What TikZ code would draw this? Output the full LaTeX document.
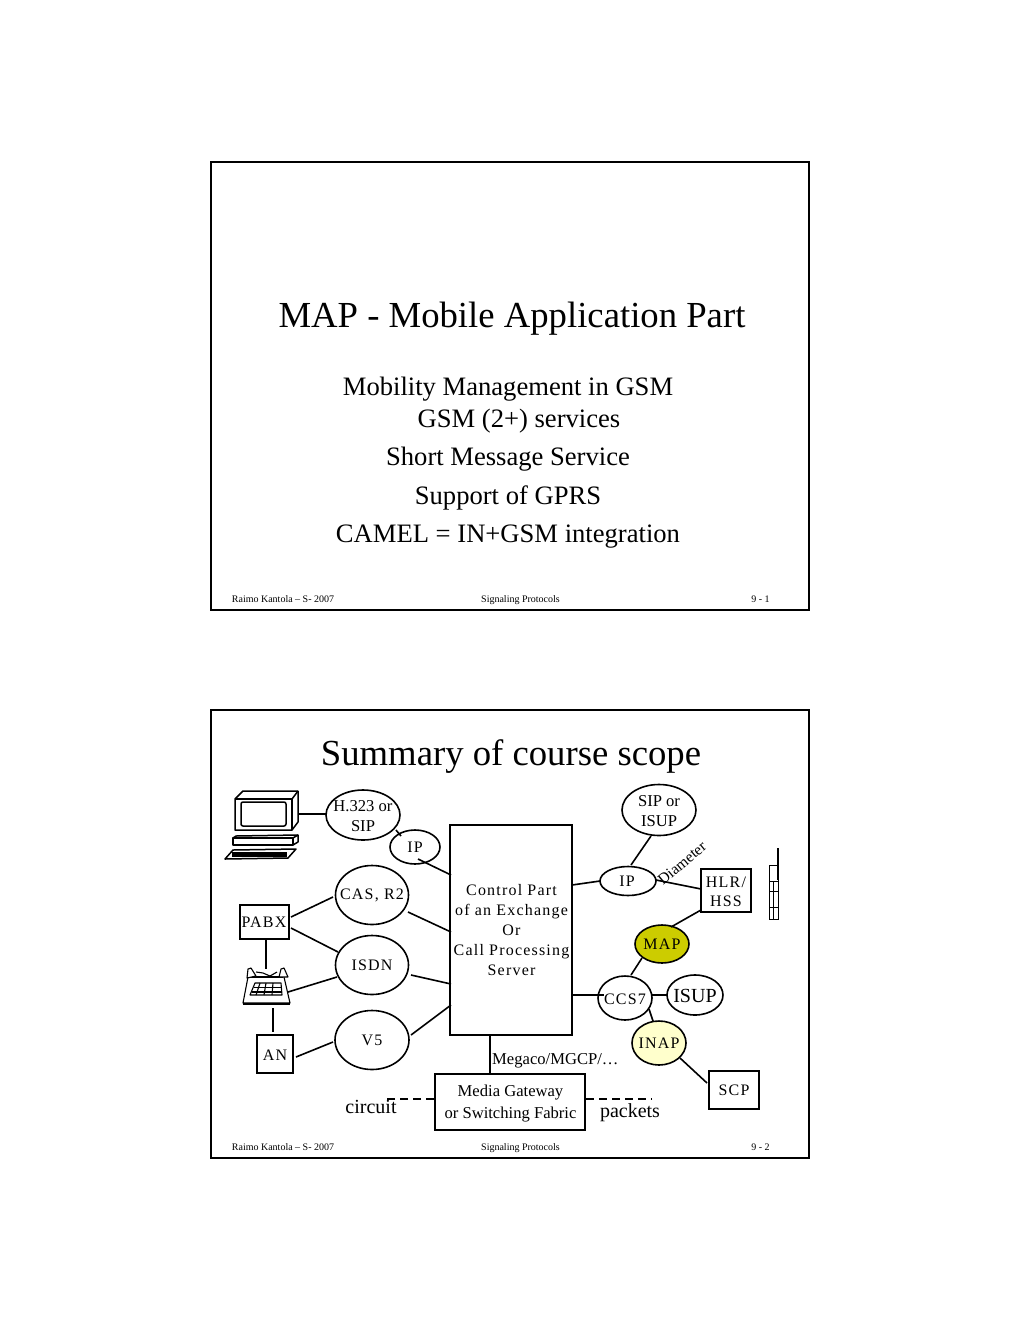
\documentclass[tikz,border=0pt]{standalone}
\usepackage{fontspec}
\setmainfont{Liberation Serif}
\newcommand{\sz}[1]{\fontsize{#1}{#1}\selectfont}
\newcommand{\spc}{\addfontfeature{LetterSpace=7.5}}
\tikzset{
  x=1pt,y=-1pt,
  frame/.style={draw,line width=2pt,fill=white},
  wire/.style={draw,line width=1.6pt},
  oval/.style={draw,line width=1.6pt,ellipse,fill=white,inner sep=0pt},
  boxn/.style={draw,line width=2pt,fill=white,inner sep=0pt},
  lab/.style={inner sep=0pt,align=center,font=\sz{16}\spc},
  plain/.style={inner sep=0pt,align=center,font=\sz{16.6}},
  foot/.style={inner sep=0pt,font=\sz{10}},
  sub/.style={inner sep=0pt,font=\sz{26.6}},
}
\usetikzlibrary{shapes.geometric}
\begin{document}
\begin{tikzpicture}
\useasboundingbox (0,0) rectangle (1020,1320);
\fill[white] (0,0) rectangle (1020,1320);

% first slide
\draw[frame] (211,162) rectangle (809,610);
\node[inner sep=0pt,font=\sz{36.7}] (t1) at (512,319) {MAP - Mobile Application Part};
\node[sub] (s1) at (508,389) {Mobility Management in GSM};
\node[sub] (s2) at (519,421) {GSM (2+) services};
\node[sub] (s3) at (508,459) {Short Message Service};
\node[sub] (s4) at (508,498) {Support of GPRS};
\node[sub] (s5) at (508,537) {CAMEL = IN+GSM integration};
\node[foot] (f1a) at (283,599) {Raimo Kantola – S- 2007};
\node[foot] (f1b) at (520.5,600) {Signaling Protocols};
\node[foot] (f1c) at (760.5,599) {9 - 1};

% second slide
\draw[frame] (211,710) rectangle (809,1158);
\node[inner sep=0pt,font=\sz{36.7}] (t2) at (511,757) {Summary of course scope};
\node[foot] (f2a) at (283,1147) {Raimo Kantola – S- 2007};
\node[foot] (f2b) at (520.5,1148) {Signaling Protocols};
\node[foot] (f2c) at (760.5,1147) {9 - 2};

% central server and gateway
\node[boxn,minimum width=122pt,minimum height=210pt] (cp) at (511,929.5) {};
\node[lab,font=\sz{16}\spc] (cpt) at (511.5,929.5) {\rule{0pt}{13pt}Control Part\\[4pt]of an Exchange\\[4pt]Or\\[4pt]Call Processing\\[4pt]Server};
\node[boxn,minimum width=150pt,minimum height=56pt] (mg) at (510,1102) {};
\node[plain] (mgt) at (510.5,1103.5) {Media Gateway\\[4.5pt]or Switching Fabric};

% ovals
\node[oval,minimum width=74pt,minimum height=50pt] (h323) at (363,815) {};
\node[oval,minimum width=50pt,minimum height=34pt] (ipl) at (415,847) {};
\node[oval,minimum width=73pt,minimum height=59pt] (cas) at (372,895) {};
\node[oval,minimum width=73pt,minimum height=59pt] (isdn) at (372,965) {};
\node[oval,minimum width=74pt,minimum height=59pt] (v5) at (372,1040) {};
\node[oval,minimum width=74pt,minimum height=51pt] (sip) at (659,810) {};
\node[oval,minimum width=56pt,minimum height=29pt] (ipr) at (628,881) {};
\node[oval,fill={rgb,255:red,204;green,204;blue,0},minimum width=54pt,minimum height=38pt] (map) at (662,944) {};
\node[oval,minimum width=54pt,minimum height=44pt] (ccs) at (625,998) {};
\node[oval,minimum width=56pt,minimum height=40pt] (isup) at (695,995) {};
\node[oval,fill={rgb,255:red,255;green,255;blue,204},minimum width=54pt,minimum height=44pt] (inap) at (659,1043) {};

% boxes
\node[boxn,minimum width=49pt,minimum height=34pt] (pabx) at (264,922) {};
\node[boxn,minimum width=36pt,minimum height=38pt] (an) at (275,1054) {};
\node[boxn,minimum width=50pt,minimum height=43pt] (hlr) at (726,890) {};
\node[boxn,minimum width=50pt,minimum height=38pt] (scp) at (734,1090) {};

% connector ends
\coordinate (pc) at (298,814);
\coordinate (pabxb) at (266,939);
\coordinate (tel) at (266,969);
\coordinate (telb) at (273,1008);
\coordinate (cL1) at (451,875);
\coordinate (cL2) at (451,932);
\coordinate (cL3) at (451,984);
\coordinate (cL4) at (451,1005);
\coordinate (cR1) at (572,885);
\coordinate (cR2) at (572,995);
\coordinate (ccsin) at (604,995);
\coordinate (cB) at (490,1035);
\coordinate (mgT) at (490,1074);

% connectors
\path[wire] (pc) -- (327,814);
\path[wire] (396,830) -- (401,836);
\path[wire] (418,859) -- (cL1);
\path[wire] (333,897) -- (291,917);
\path[wire] (408,912) -- (cL2);
\path[wire] (291,928) -- (338,952);
\path[wire] (337,977) -- (288,992);
\path[wire] (411,975) -- (cL3);
\path[wire] (411,1035) -- (cL4);
\path[wire] (333,1042) -- (296,1057);
\path[wire] (pabxb) -- (tel);
\path[wire] (telb) -- (273,1032);
\path[wire] (cR1) -- (600,881);
\path[wire] (cR2) -- (ccsin);
\path[wire] (651,836) -- (631,865);
\path[wire] (656,880) -- (701,889);
\path[wire] (701,910) -- (671,927);
\path[wire] (642,958) -- (631,975);
\path[wire] (652,995) -- (667,995);
\path[wire] (649,1009) -- (653,1021);
\path[wire] (680,1058) -- (707,1083);
\path[wire] (cB) -- (mgT);
\path[wire,dashed,dash pattern=on 8pt off 5pt] (mg.west|-0,1099) -- (385,1099);
\path[wire,dashed,dash pattern=on 8pt off 5pt] (mg.east|-0,1099) -- (652,1099);

% texts
\node[plain] (h323t) at (363,816) {H.323 or\\[3.5pt]SIP};
\node[lab] (ipt) at (415,847) {IP};
\node[lab] (cast) at (372,895.5) {CAS, R2};
\node[lab] (isdnt) at (372,965) {ISDN};
\node[lab] (v5t) at (372,1040) {V5};
\node[lab] (pabxt) at (264,922.5) {PABX};
\node[lab] (ant) at (275,1055) {AN};
\node[plain] (sipt) at (659,811) {SIP or\\[3.5pt]ISUP};
\node[lab] (iprt) at (627,881.5) {IP};
\node[lab] (hlrt) at (726,892) {HLR/\\[3pt]HSS};
\node[lab] (mapt) at (662,944.5) {MAP};
\node[lab] (ccst) at (625,999) {CCS7};
\node[plain,font=\sz{20}] (isupt) at (695,996) {ISUP};
\node[lab] (inapt) at (659,1043.5) {INAP};
\node[lab] (scpt) at (734,1090.5) {SCP};
\node[plain,anchor=west] (mgcp) at (492,1061) {Megaco/MGCP/…};
\node[plain,font=\sz{20}] (circ) at (371,1107) {circuit};
\node[plain,font=\sz{20}] (pack) at (630,1113) {packets};
\node[plain,rotate=40,font=\sz{15.5}] (dia) at (682,863) {Diameter};

% desktop computer
\begin{scope}[line width=1.5pt,line join=round]
  \draw (235,799) -- (243,791) -- (298,791) -- (298,822) -- (292,830) -- (235,830) -- cycle;
  \draw (235,799) -- (292,799) -- (292,830);
  \draw (292,799) -- (298,791);
  \draw[rounded corners=2pt] (241,802) rectangle (286,826);
  \draw (233,838) rectangle (293,845);
  \draw (293,838) -- (298,835) -- (298,842) -- (293,845);
  \draw (233,838) -- (236,836) -- (298,835);
  \draw (225,859) -- (233,850) -- (296,849) -- (288,858) -- cycle;
  \fill (232,852) rectangle (287,856.5);
\end{scope}

% desk telephone
\begin{scope}[line width=1.1pt,line join=round]
  \draw (248,977) -- (243,1003) -- (290,1003) -- (284,977);
  \draw[line width=2pt] (243,1003.5) -- (290,1003.5);
  \draw (248,977) -- (283,977);
  \draw[fill=white] (247,978) -- (248,969) -- (251,968) -- (256,976) -- cycle;
  \draw[fill=white] (279,977) -- (281,969) -- (284,968) -- (288,977) -- cycle;
  \draw (256,972) -- (263,973) -- (270,976) -- (277,972);
  \draw (255,983) -- (281,983) -- (282,995) -- (250,995) -- cycle;
  \draw (254,987.5) -- (281,987.5) (252,992) -- (282,992);
  \draw (260,983) -- (256,995) (266,983) -- (264,995) (273,983) -- (272,995);
\end{scope}

% mobile handset
\begin{scope}[line width=1pt]
  \draw (769.5,865) rectangle (778,919);
  \draw[line width=1.3pt] (778,848) -- (778,880);
  \draw (769.5,881) -- (778,881) (769.5,891) -- (778,891) (769.5,907) -- (778,907);
  \draw (773.5,881) -- (773.5,919);
\end{scope}
\end{tikzpicture}
\end{document}
